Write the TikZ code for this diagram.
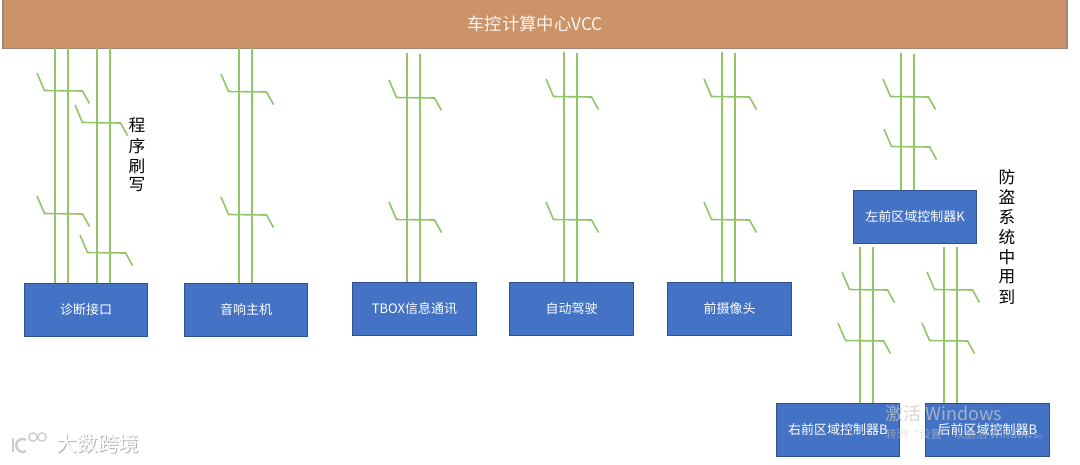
\documentclass[tikz,border=0pt]{standalone}
\usepackage{fontspec}
\setmainfont{Noto Sans CJK SC}
\definecolor{vccfill}{HTML}{CC9268}
\definecolor{vccedge}{HTML}{A08878}
\definecolor{unitfill}{HTML}{4472C4}
\definecolor{unitedge}{HTML}{2F528F}
\definecolor{buscolor}{HTML}{92C468}
\begin{document}
\begin{tikzpicture}[x=0.75pt, y=-0.75pt,
        unitbox/.style={draw=unitedge, fill=unitfill, line width=0.6pt, text=white, font=\fontsize{9.75}{12}\selectfont, minimum width=92.6pt, minimum height=39.6pt, inner sep=0pt},
        busline/.style={draw=buscolor, line width=1.4pt},
        stubline/.style={draw=buscolor, line width=1.2pt},
        sidetext/.style={align=center, font=\fontsize{12.5}{15}\selectfont, inner sep=0pt},
        markmain/.style={text=gray!45, opacity=0.75, inner sep=0pt, anchor=west}]
        \useasboundingbox (0,0) rectangle (1080,464);
        \node[draw=vccedge, fill=vccfill, line width=0.8pt, text=white!92!vccfill, minimum width=798pt, minimum height=37pt, inner sep=0pt,
            font=\fontsize{13}{16}\selectfont] (vcc) at (535,23.5) {车控计算中心VCC};
        \foreach \unitname/\unitx/\unity/\unitlabel in {diag/86/309.5/诊断接口, audio/246/309.5/音响主机, tbox/414.5/309/TBOX信息通讯,
                drive/571.5/309/自动驾驶, camera/729.5/309/前摄像头, left/915/217/左前区域控制器K,
                right/838/430/右前区域控制器B, rear/987.5/430/后前区域控制器B}
            \node[unitbox] (\unitname) at (\unitx,\unity) {\unitlabel};
        \foreach \busname/\busx/\busy/\unitname in {diag-1/55/48/diag, diag-2/68/48/diag, diag-3/97/48/diag, diag-4/110/48/diag,
                audio-1/239/48/audio, audio-2/252/48/audio, tbox-1/407/53/tbox, tbox-2/420/54/tbox,
                drive-1/564/52/drive, drive-2/577/53/drive, camera-1/722/52/camera, camera-2/735/53/camera,
                left-1/901/53/left, left-2/914/54/left, right-1/860/247/right, right-2/873/247/right,
                rear-1/944/247/rear, rear-2/957/247/rear} {
            \coordinate (\busname) at (\busx,\busy);
            \draw[busline] (\busname) -- (\busname |- \unitname.north);
        }
        \foreach \stubx/\stuby in {37/73, 75/105, 37/196, 80/235, 221/74, 221/197, 389/80, 389/202, 546/79, 546/202,
                704/79, 704/202, 883/79, 884/129, 842/272, 838/323, 927/272, 922/323}
            \draw[stubline] (\stubx,\stuby) -- ++(7.5,17.5) -- ++(38,0.5) -- ++(7,12.5);
        \foreach \markname/\marky/\markchar in {prog-1/125/程, prog-2/146/序, prog-3/166/刷, prog-4/185/写}
            \node[sidetext] (\markname) at (137,\marky) {\markchar};
        \foreach \markname/\marky/\markchar in {alarm-1/177/防, alarm-2/197/盗, alarm-3/217/系, alarm-4/237/统,
                alarm-5/257/中, alarm-6/277/用, alarm-7/297/到}
            \node[sidetext] (\markname) at (1007,\marky) {\markchar};
        \node[markmain, font=\fontsize{13.5}{16}\selectfont] (activate) at (885,414) {激活 Windows};
        \node[markmain, font=\fontsize{8.5}{10}\selectfont, opacity=0.55] (settings) at (885,434) {转到“设置”以激活 Windows。};
        \node[text=gray!60, font=\fontsize{15.5}{18}\selectfont, inner sep=0pt] (brandshade) at (99,444.5) {大数跨境};
        \node[text=white, font=\fontsize{15.5}{18}\selectfont, inner sep=0pt] (brand) at (98,443.5) {大数跨境};
        \draw[gray!40, line width=1.8pt] (13,438) -- (13,452);
        \draw[gray!40, line width=1.8pt] (26,451) arc (60:300:6.5);
        \draw[gray!40, line width=1pt] (33,437) circle (4.2) (42,437) circle (4.2);
    \end{tikzpicture}
\end{document}
